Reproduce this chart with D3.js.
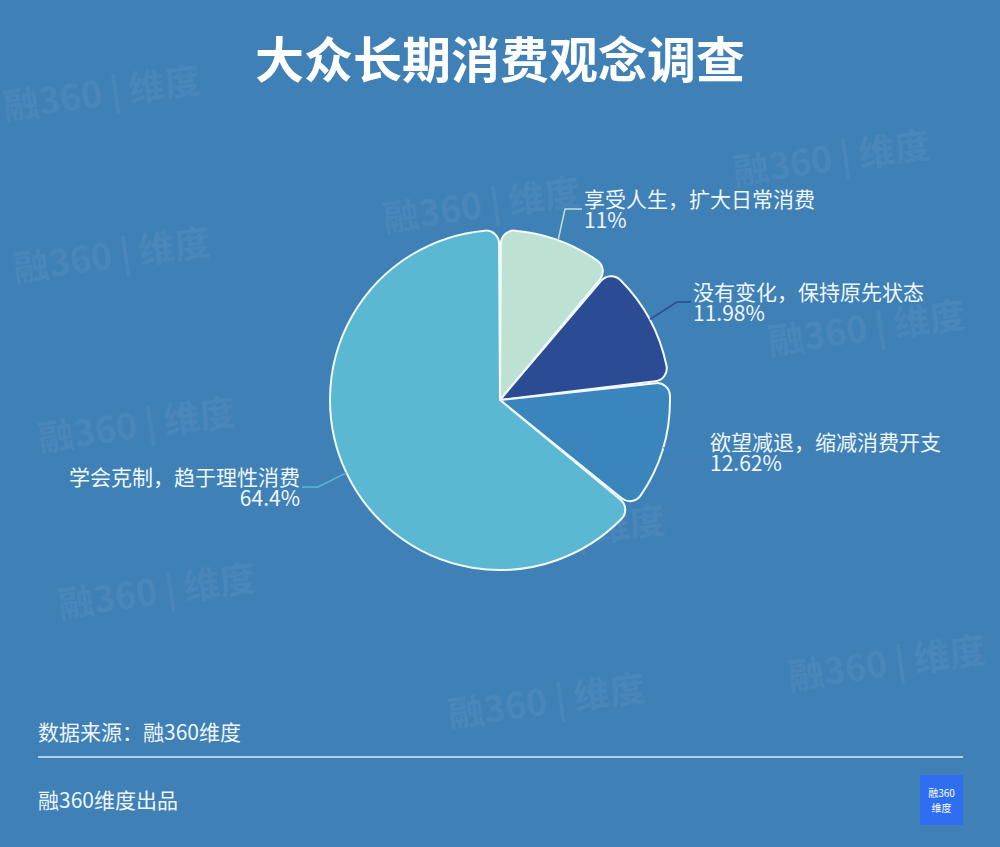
<!DOCTYPE html>
<html><head><meta charset="utf-8">
<script src="https://cdn.jsdelivr.net/npm/d3@7"></script>
<style>
html,body{margin:0;padding:0;background:#3F80B6;}
svg{display:block;font-family:"Noto Sans CJK SC","Noto Sans",sans-serif;}
</style></head>
<body>
<svg id="chart" width="1000" height="847"></svg>
<script>
const title = "大众长期消费观念调查";
const categories = ["享受人生，扩大日常消费","没有变化，保持原先状态","欲望减退，缩减消费开支","学会克制，趋于理性消费"];
const values = [11, 11.98, 12.62, 64.4];
const valueLabels = ["11%","11.98%","12.62%","64.4%"];
const colors = ["#BDE2D3","#2B4B94","#3A85BC","#5BB8D3"];
const source = "数据来源：融360维度";
const footer = "融360维度出品";

const svg = d3.select("#chart");
svg.append("rect").attr("width",1000).attr("height",847).attr("fill","#3F80B6");

// faint watermarks
const wm = [[5,120],[385,232],[15,282],[735,185],[40,452],[770,355],[60,618],[790,690],[450,728],[470,560]];
const wg = svg.append("g");
wm.forEach(([x,y])=>{
  wg.append("text").attr("transform",`translate(${x},${y}) rotate(-8)`)
    .attr("font-size",36).attr("font-weight",700).attr("fill","#ffffff").attr("opacity",0.05)
    .text("融360 | 维度");
});

svg.append("text").attr("x",500).attr("y",78).attr("text-anchor","middle")
  .attr("font-size",49).attr("font-weight",700).attr("fill","#ffffff").text(title);

const cx = 500, cy = 400, R = 170;
const pie = d3.pie().sort(null).value(d=>d).padAngle(0.012);
const arcs = pie(values);
const arc = d3.arc().innerRadius(0).outerRadius(R).cornerRadius(13);
const g = svg.append("g").attr("transform",`translate(${cx},${cy})`);
g.selectAll("path").data(arcs).join("path")
  .attr("d",arc).attr("fill",(d,i)=>colors[i])
  .attr("stroke","#F2FAFF").attr("stroke-width",2).attr("stroke-linejoin","round");

// label leader lines and text
const labelPos = [
  {ex:[565,209], tx:584, side:"start"},
  {ex:[677,302], tx:693, side:"start"},
  {ex:[700,452], tx:710, side:"start"},
  {ex:[318,487], tx:300, side:"end"}
];
arcs.forEach((a,i)=>{
  const mid = (a.startAngle+a.endAngle)/2;
  const p0 = [cx+Math.sin(mid)*R, cy-Math.cos(mid)*R];
  const lp = labelPos[i];
  const p2x = lp.side==="start" ? lp.tx-2 : lp.tx+2;
  svg.append("polyline")
    .attr("points",[p0,lp.ex,[p2x,lp.ex[1]]].map(p=>p.join(",")).join(" "))
    .attr("fill","none").attr("stroke",colors[i]).attr("stroke-width",1.5);
  const t = svg.append("text").attr("text-anchor",lp.side).attr("fill","#EEF7FB").attr("font-size",21);
  t.append("tspan").attr("x",lp.tx).attr("y",lp.ex[1]-2).text(categories[i]);
  t.append("tspan").attr("x",lp.tx).attr("y",lp.ex[1]+19).text(valueLabels[i]);
});

// footer
svg.append("text").attr("x",38).attr("y",740).attr("font-size",21).attr("fill","#EEF5FA").text(source);
svg.append("line").attr("x1",38).attr("x2",963).attr("y1",757).attr("y2",757)
  .attr("stroke","#A9D2F0").attr("stroke-width",2);
svg.append("text").attr("x",38).attr("y",808).attr("font-size",21).attr("fill","#EEF5FA").text(footer);
svg.append("rect").attr("x",920).attr("y",775).attr("width",43).attr("height",50).attr("fill","#2F6EF2");
svg.append("text").attr("x",941.5).attr("y",797).attr("text-anchor","middle").attr("font-size",10).attr("fill","#ffffff").text("融360");
svg.append("text").attr("x",941.5).attr("y",812).attr("text-anchor","middle").attr("font-size",10).attr("fill","#ffffff").text("维度");
</script>
</body></html>
